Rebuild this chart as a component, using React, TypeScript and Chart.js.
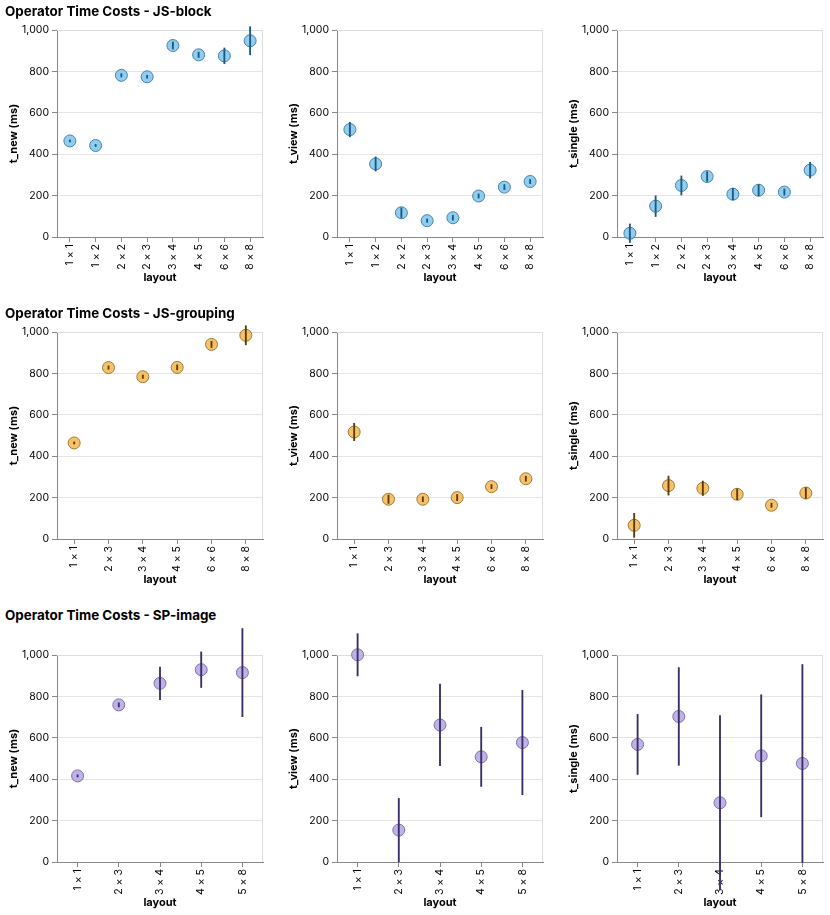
import { useEffect, useRef } from 'react';
import { Chart, registerables } from 'chart.js';

Chart.register(...registerables);

const FONT = 'Inter, "Liberation Sans", Arial, sans-serif';

// ---------- data ----------
const blockLayouts = ['1 × 1', '1 × 2', '2 × 2', '2 × 3', '3 × 4', '4 × 5', '6 × 6', '8 × 8'];
const blockNew = [464, 442, 781, 774, 925, 880, 875, 948];
const blockNewErr = [5, 5, 8, 7, 17, 13, 38, 68];
const blockView = [519, 353, 117, 79, 93, 198, 241, 268];
const blockViewErr = [35, 34, 24, 8, 12, 10, 12, 10];
const blockSingle = [18, 149, 249, 292, 207, 226, 217, 323];
const blockSingleErr = [45, 50, 46, 23, 28, 27, 15, 38];

const groupLayouts = ['1 × 1', '2 × 3', '3 × 4', '4 × 5', '6 × 6', '8 × 8'];
const groupNew = [464, 828, 784, 829, 940, 984];
const groupNewErr = [5, 8, 8, 12, 15, 46];
const groupView = [517, 192, 192, 200, 253, 291];
const groupViewErr = [42, 20, 12, 15, 10, 12];
const groupSingle = [66, 258, 245, 216, 163, 222];
const groupSingleErr = [58, 46, 35, 26, 10, 26];

const imageLayouts = ['1 × 1', '2 × 3', '3 × 4', '4 × 5', '5 × 8'];
const imageNew = [416, 759, 863, 929, 915];
const imageNewErr = [5, 10, 79, 86, 213];
const imageView = [1001, 154, 662, 508, 577];
const imageViewErr = [102, 153, 197, 143, 252];
const imageSingle = [568, 703, 286, 513, 476];
const imageSingleErr = [145, 236, 421, 295, 478];

const rowTitles = [
  'Operator Time Costs - JS-block',
  'Operator Time Costs - JS-grouping',
  'Operator Time Costs - SP-image',
];
const yTitles = ['t_new (ms)', 't_view (ms)', 't_single (ms)'];

// ---------- styles ----------
type Theme = { fill: string; stroke: string; bar: string };
const blueTheme: Theme = { fill: 'rgba(125,196,236,0.85)', stroke: '#4682aa', bar: '#1b5a80' };
const orangeTheme: Theme = { fill: 'rgba(245,182,78,0.85)', stroke: '#a07a36', bar: '#5a3c0c' };
const purpleTheme: Theme = { fill: 'rgba(180,165,224,0.85)', stroke: '#7e70ad', bar: '#3b2c68' };

const PLOT_W = 208;
const PLOT_H = 207;
const AXIS_W = 57;
const PAD_TOP = 30;
const XAXIS_H = 50;
const PAD_RIGHT = 5;
const CANVAS_W = AXIS_W + PLOT_W + PAD_RIGHT;
const CANVAS_H = PAD_TOP + PLOT_H + XAXIS_H;

const colLefts = [57, 337, 617];
const rowTops = [30, 332, 655];
const titleTops = [3, 305, 607];

const framePlugin = {
  id: 'frame',
  beforeDatasetsDraw(chart: any) {
    const { ctx, chartArea } = chart;
    ctx.save();
    ctx.strokeStyle = '#dddddd';
    ctx.lineWidth = 1;
    ctx.beginPath();
    ctx.moveTo(chartArea.left, chartArea.top + 0.5);
    ctx.lineTo(chartArea.right - 0.5, chartArea.top + 0.5);
    ctx.lineTo(chartArea.right - 0.5, chartArea.bottom);
    ctx.stroke();
    ctx.restore();
  },
};

type PanelProps = {
  labels: string[];
  values: number[];
  errs: number[];
  yTitle: string;
  theme: Theme;
  left: number;
  top: number;
};

function Panel({ labels, values, errs, yTitle, theme, left, top }: PanelProps) {
  const ref = useRef<HTMLCanvasElement>(null);
  useEffect(() => {
    const ranges = values.map((v, i) => [v - errs[i], v + errs[i]]);
    const chart = new Chart(ref.current!, {
      type: 'bar',
      data: {
        labels,
        datasets: [
          {
            type: 'bar',
            data: ranges as any,
            backgroundColor: theme.bar,
            barThickness: 1.2,
            clip: false as any,
            order: 0,
          },
          {
            type: 'line',
            data: values,
            showLine: false,
            pointRadius: 6,
            pointBackgroundColor: theme.fill,
            pointBorderColor: theme.stroke,
            pointBorderWidth: 1,
            clip: false as any,
            order: 1,
          } as any,
        ],
      },
      options: {
        animation: false,
        responsive: false,
        maintainAspectRatio: false,
        layout: { padding: { top: PAD_TOP, right: PAD_RIGHT, left: 0, bottom: 0 } },
        plugins: {
          legend: { display: false },
          tooltip: { enabled: false },
          title: { display: false },
        },
        scales: {
          x: {
            offset: true,
            grid: {
              offset: false,
              drawOnChartArea: false,
              drawTicks: true,
              tickLength: 5,
              tickColor: '#888888',
            },
            border: { color: '#888888', width: 1 },
            ticks: {
              minRotation: 90,
              maxRotation: 90,
              autoSkip: false,
              padding: 2,
              color: '#000000',
              font: { family: FONT, size: 10.5 },
            },
            title: {
              display: true,
              text: 'layout',
              color: '#000000',
              font: { family: FONT, size: 11, weight: 'bold' },
              padding: { top: 0, bottom: 3 },
            },
            afterFit: (s: any) => {
              s.height = XAXIS_H;
            },
          },
          y: {
            min: 0,
            max: 1000,
            ticks: {
              stepSize: 200,
              padding: 3,
              color: '#000000',
              font: { family: FONT, size: 10.5 },
            },
            grid: {
              color: '#e5e5e5',
              tickColor: '#888888',
              tickLength: 5,
            },
            border: { color: '#888888', width: 1 },
            title: {
              display: true,
              text: yTitle,
              color: '#000000',
              font: { family: FONT, size: 11, weight: 'bold' },
              padding: { top: 7, bottom: 0 },
            },
            afterFit: (s: any) => {
              s.width = AXIS_W;
            },
          },
        },
      } as any,
      plugins: [framePlugin],
    });
    return () => chart.destroy();
  }, []);
  return (
    <canvas
      ref={ref}
      width={CANVAS_W}
      height={CANVAS_H}
      style={{
        position: 'absolute',
        left: left - AXIS_W,
        top: top - PAD_TOP,
        width: CANVAS_W,
        height: CANVAS_H,
      }}
    />
  );
}

const rows = [
  {
    labels: blockLayouts,
    theme: blueTheme,
    series: [
      [blockNew, blockNewErr],
      [blockView, blockViewErr],
      [blockSingle, blockSingleErr],
    ],
  },
  {
    labels: groupLayouts,
    theme: orangeTheme,
    series: [
      [groupNew, groupNewErr],
      [groupView, groupViewErr],
      [groupSingle, groupSingleErr],
    ],
  },
  {
    labels: imageLayouts,
    theme: purpleTheme,
    series: [
      [imageNew, imageNewErr],
      [imageView, imageViewErr],
      [imageSingle, imageSingleErr],
    ],
  },
];

export default function App() {
  return (
    <div
      style={{
        position: 'absolute',
        left: 0,
        top: 0,
        width: 830,
        height: 915,
        background: '#ffffff',
        fontFamily: FONT,
      }}
    >
      {rows.map((row, r) => (
        <div key={r}>
          <div
            style={{
              position: 'absolute',
              left: 5,
              top: titleTops[r],
              fontSize: 13.4,
              fontWeight: 'bold',
              lineHeight: '17px',
              color: '#000',
              whiteSpace: 'nowrap',
              zIndex: 2,
            }}
          >
            {rowTitles[r]}
          </div>
          {row.series.map(([vals, errs], c) => (
            <Panel
              key={c}
              labels={row.labels}
              values={vals}
              errs={errs}
              yTitle={yTitles[c]}
              theme={row.theme}
              left={colLefts[c]}
              top={rowTops[r]}
            />
          ))}
        </div>
      ))}
    </div>
  );
}
